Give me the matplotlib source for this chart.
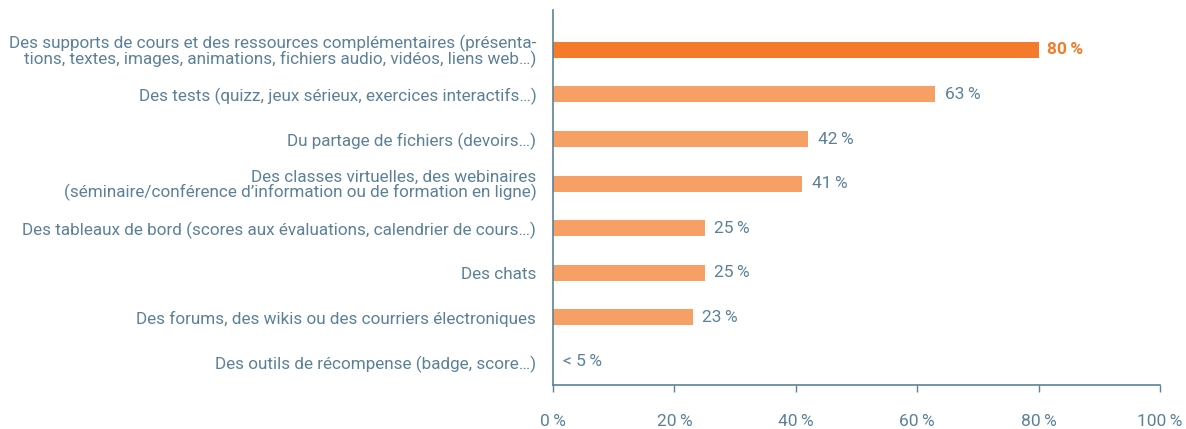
import matplotlib
matplotlib.use('Agg')
import matplotlib.pyplot as plt
import matplotlib.ticker as mticker

plt.rcParams['font.family'] = ['Roboto', 'DejaVu Sans']

categories = [
    "Des supports de cours et des ressources complémentaires (présenta-\ntions, textes, images, animations, fichiers audio, vidéos, liens web…)",
    "Des tests (quizz, jeux sérieux, exercices interactifs…)",
    "Du partage de fichiers (devoirs…)",
    "Des classes virtuelles, des webinaires\n(séminaire/conférence d’information ou de formation en ligne)",
    "Des tableaux de bord (scores aux évaluations, calendrier de cours…)",
    "Des chats",
    "Des forums, des wikis ou des courriers électroniques",
    "Des outils de récompense (badge, score…)",
]
values = [80, 63, 42, 41, 25, 25, 23, 0]
value_labels = ["80\u2009%", "63\u2009%", "42\u2009%", "41\u2009%", "25\u2009%", "25\u2009%", "23\u2009%", "< 5\u2009%"]

TXT = '#5b8199'
HI = '#f37b2b'
LO = '#f7a066'

fig = plt.figure(figsize=(11.86, 4.29), dpi=100)
ax = fig.add_axes([0.4663, 0.1026, 0.5118, 0.8744])

ypos = list(range(len(values)))
colors = [HI] + [LO] * (len(values) - 1)
ax.barh(ypos, values, height=0.36, color=colors, zorder=2)

for i, (v, lab) in enumerate(zip(values, value_labels)):
    if i == 0:
        ax.text(v + 1.4, i, lab, va='center', ha='left', color=HI, fontsize=12.5, fontweight='bold')
    else:
        ax.text(v + 1.6, i, lab, va='center', ha='left', color=TXT, fontsize=12.5)

ax.set_xlim(0, 100)
ax.set_ylim(7.516, -0.897)
ax.set_yticks(ypos)
ax.set_yticklabels(categories, fontsize=12.3, color=TXT, linespacing=0.95)
ax.tick_params(axis='y', length=0, pad=12)
ax.set_xticks([0, 20, 40, 60, 80, 100])
ax.xaxis.set_major_formatter(mticker.FuncFormatter(lambda x, p: f"{int(x)}\u2009%"))
ax.tick_params(axis='x', direction='out', length=5, width=1, color=TXT, labelcolor=TXT, labelsize=12.5, pad=16)

for s in ['top', 'right']:
    ax.spines[s].set_visible(False)
for s in ['left', 'bottom']:
    ax.spines[s].set_color(TXT)
    ax.spines[s].set_linewidth(1.2)

fig.savefig('out.png', dpi=100)
